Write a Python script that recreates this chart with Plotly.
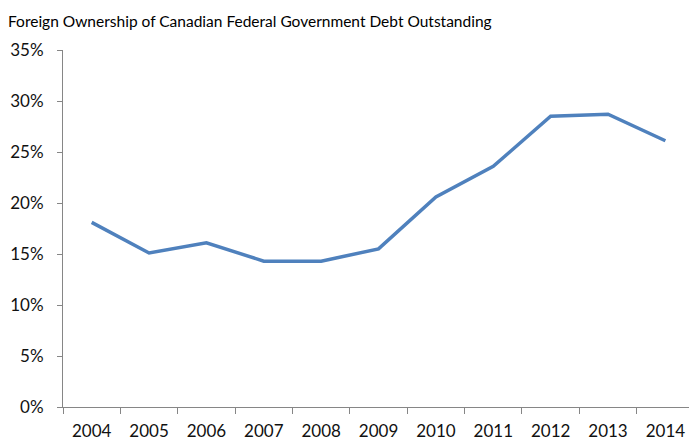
import plotly.graph_objects as go

years = ["2004", "2005", "2006", "2007", "2008", "2009", "2010", "2011", "2012", "2013", "2014"]
foreign_share = [18.1, 15.1, 16.1, 14.3, 14.3, 15.5, 20.6, 23.6, 28.5, 28.7, 26.1]
y_ticks = [0, 5, 10, 15, 20, 25, 30, 35]
title_text = "Foreign Ownership of Canadian Federal Government Debt Outstanding"

FONT = "Lato"
AXIS = "#868686"

fig = go.Figure()
fig.add_trace(go.Scatter(
    x=years, y=foreign_share, mode="lines",
    line=dict(color="#4F81BD", width=3.5),
    hoverinfo="skip", showlegend=False,
))

fig.update_layout(
    width=689, height=443,
    margin=dict(l=63, r=0, t=50, b=36),
    paper_bgcolor="white", plot_bgcolor="white",
    font=dict(family=FONT, size=17, color="#111111"),
    title=dict(text=title_text, x=8/689, xanchor="left", xref="container",
               y=1-22/443, yanchor="middle", yref="container",
               font=dict(family=FONT, size=15.5, color="#000000")),
    xaxis=dict(type="category", range=[-0.5, -0.5 + 626/57.37],
               tickson="boundaries", ticks="outside", ticklen=6, tickcolor=AXIS,
               tickwidth=1, showline=True, linecolor=AXIS, linewidth=1,
               showgrid=False, zeroline=False, tickfont=dict(size=17),
               ticklabelstandoff=9),
    yaxis=dict(range=[0, 35], tickvals=y_ticks, ticktext=[f"{v}%" for v in y_ticks],
               ticks="outside", ticklen=5, tickcolor=AXIS, tickwidth=1,
               showline=True, linecolor=AXIS, linewidth=1,
               showgrid=False, zeroline=False, tickfont=dict(size=17),
               ticklabelstandoff=10),
)

fig.write_html("out.html")
